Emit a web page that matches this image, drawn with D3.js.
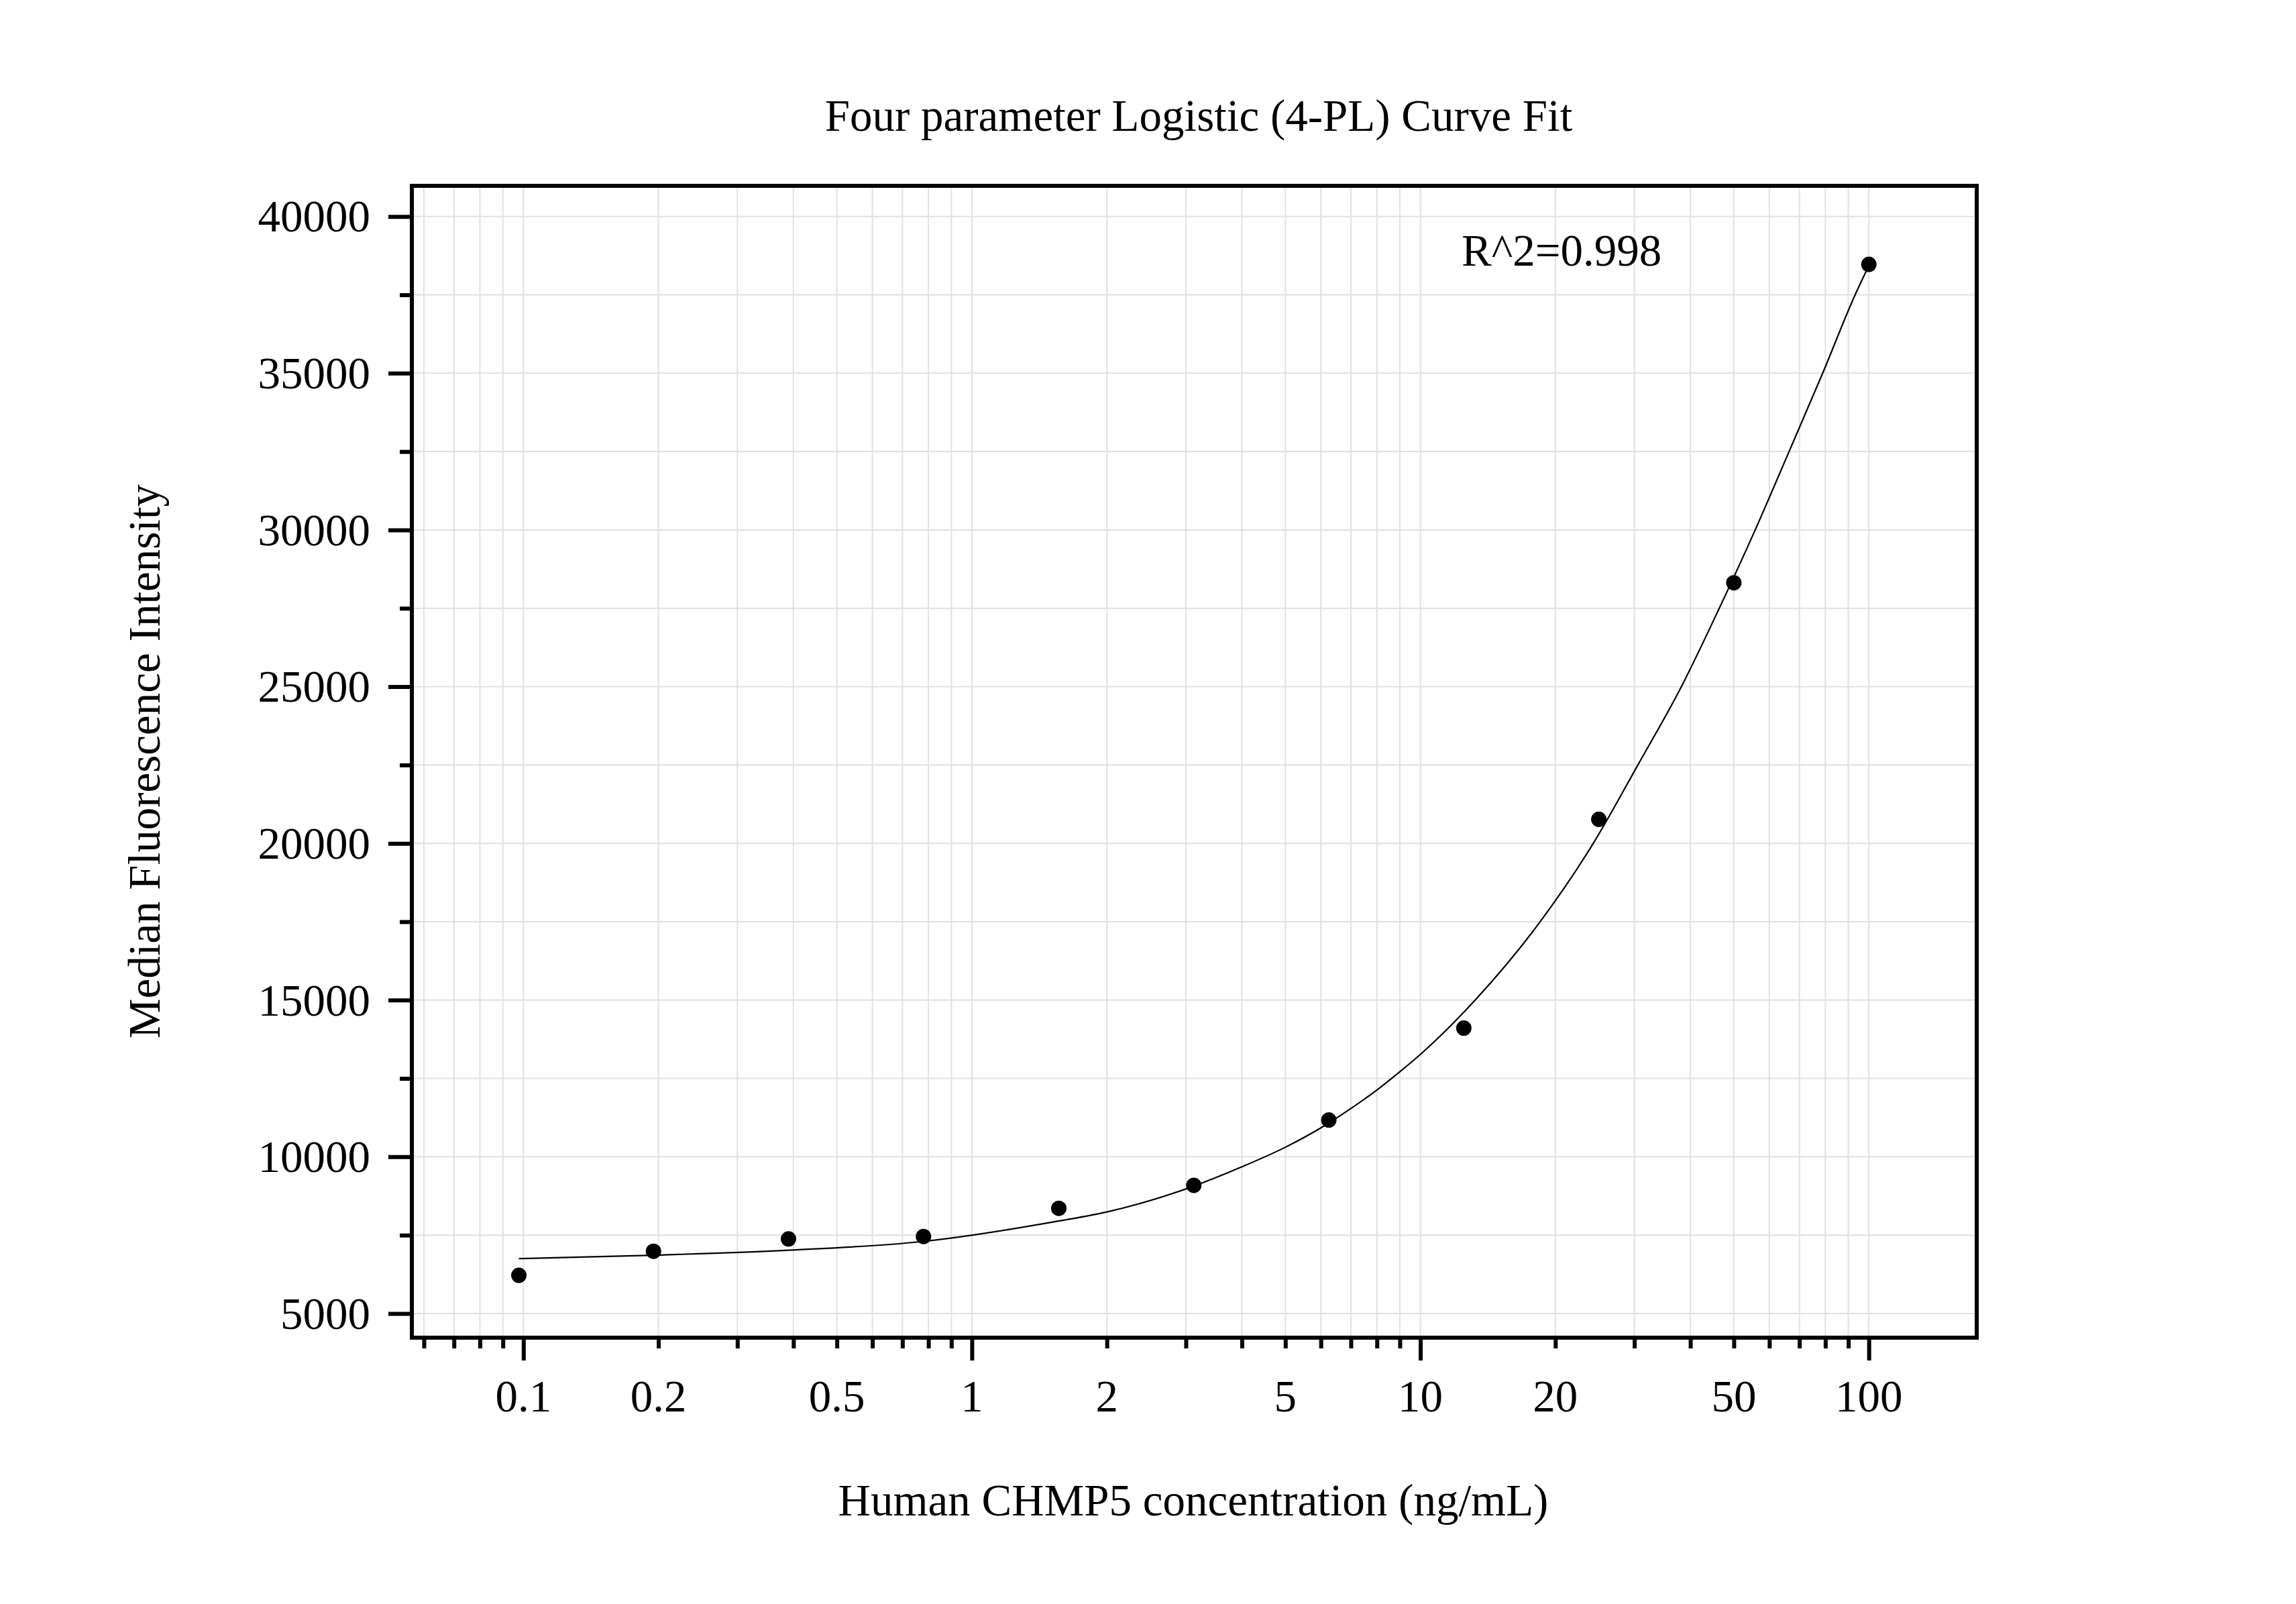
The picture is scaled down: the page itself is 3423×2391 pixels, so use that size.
<!DOCTYPE html>
<html>
<head>
<meta charset="utf-8">
<script src="https://cdn.jsdelivr.net/npm/d3@7/dist/d3.min.js"></script>
<style>
  html, body { margin: 0; padding: 0; background: #fff; }
  svg { display: block; }
  text { font-family: "Liberation Serif", "Times New Roman", Times, serif; fill: #000; }
</style>
</head>
<body>
<svg id="chart" width="3423" height="2391"></svg>
<script>
// ---- data ----
const concentrations = [0.0977, 0.195, 0.39, 0.78, 1.5625, 3.125, 6.25, 12.5, 25, 50, 100];
const mfiValues      = [6218, 6987, 7378, 7457, 8355, 9088, 11173, 14105, 20767, 28314, 38473];

// fitted 4-PL curve
const curveX = [0.0977, 0.195, 0.39, 0.78, 1.56, 2.0, 3.125, 4, 5, 6, 7, 8, 9, 10, 13.25, 18.5, 24.3, 30.55, 38.2, 46.4, 55.8, 66.4, 78.9, 93.2, 100];
const curveY = [6752, 6860, 7020, 7300, 7950, 8240, 9065, 9680, 10305, 10923, 11541, 12131, 12713, 13267, 15000, 17500, 20000, 22500, 25000, 27500, 30000, 32500, 35000, 37500, 38430];

const xLabelTicks = [0.1, 0.2, 0.5, 1, 2, 5, 10, 20, 50, 100];
const xDecadeTicks = [0.1, 1, 10, 100];
const xMinorTicks = [0.06, 0.07, 0.08, 0.09, 0.2, 0.3, 0.4, 0.5, 0.6, 0.7, 0.8, 0.9,
                     2, 3, 4, 5, 6, 7, 8, 9, 20, 30, 40, 50, 60, 70, 80, 90];
const yMajorTicks = [5000, 10000, 15000, 20000, 25000, 30000, 35000, 40000];
const yMinorTicks = [7500, 12500, 17500, 22500, 27500, 32500, 37500];

const titleText = "Four parameter Logistic (4-PL) Curve Fit";
const xTitle = "Human CHMP5 concentration (ng/mL)";
const yTitle = "Median Fluorescence Intensity";
const r2Text = "R^2=0.998";

// ---- layout ----
const L = 614, R = 2947, T = 277, B = 1994;
const FS = 67;

const svg = d3.select("#chart");

const x = d3.scaleLog().domain([0.0564, 174]).range([L, R]);
const y = d3.scaleLinear().domain([4229, 40978]).range([B, T]);

// gridlines
const grid = svg.append("g").attr("stroke", "#e1e1e1").attr("stroke-width", 2);
const xGridVals = [...xDecadeTicks, ...xMinorTicks];
grid.selectAll("line.vx").data(xGridVals).enter().append("line")
  .attr("x1", d => x(d)).attr("x2", d => x(d)).attr("y1", T).attr("y2", B);
grid.selectAll("line.hy").data([...yMajorTicks, ...yMinorTicks]).enter().append("line")
  .attr("x1", L).attr("x2", R).attr("y1", d => y(d)).attr("y2", d => y(d));

// curve
const line = d3.line()
  .x((d, i) => x(curveX[i]))
  .y(d => y(d))
  .curve(d3.curveMonotoneX);
svg.append("path")
  .datum(curveY)
  .attr("d", line)
  .attr("fill", "none")
  .attr("stroke", "#000")
  .attr("stroke-width", 2.2);

// points
svg.append("g").selectAll("circle").data(mfiValues).enter().append("circle")
  .attr("cx", (d, i) => x(concentrations[i]))
  .attr("cy", d => y(d))
  .attr("r", 11.5)
  .attr("fill", "#000");

// axes via d3 axes
function styleAxis(g) {
  g.select(".domain").remove();
  g.selectAll(".tick line").attr("stroke", "#000").attr("stroke-width", 6);
  g.selectAll(".tick text").remove();
}
svg.append("g").attr("transform", `translate(0,${B})`)
  .call(d3.axisBottom(x).tickValues(xDecadeTicks).tickSize(34).tickFormat(""))
  .call(styleAxis);
svg.append("g").attr("transform", `translate(0,${B})`)
  .call(d3.axisBottom(x).tickValues(xMinorTicks).tickSize(16).tickFormat(""))
  .call(styleAxis);
svg.append("g").attr("transform", `translate(${L},0)`)
  .call(d3.axisLeft(y).tickValues(yMajorTicks).tickSize(35).tickFormat(""))
  .call(styleAxis);
svg.append("g").attr("transform", `translate(${L},0)`)
  .call(d3.axisLeft(y).tickValues(yMinorTicks).tickSize(18).tickFormat(""))
  .call(styleAxis);

// frame
svg.append("rect")
  .attr("x", L).attr("y", T).attr("width", R - L).attr("height", B - T)
  .attr("fill", "none").attr("stroke", "#000").attr("stroke-width", 6);

// tick labels
svg.append("g").selectAll("text").data(xLabelTicks).enter().append("text")
  .attr("x", d => x(d)).attr("y", 2104)
  .attr("text-anchor", "middle")
  .attr("font-size", FS)
  .text(d => String(d));

svg.append("g").selectAll("text").data(yMajorTicks).enter().append("text")
  .attr("x", 552).attr("y", d => y(d))
  .attr("dy", "0.34em")
  .attr("text-anchor", "end")
  .attr("font-size", FS)
  .text(d => String(d));

// titles
svg.append("text").attr("x", 1787).attr("y", 195)
  .attr("text-anchor", "middle").attr("font-size", FS).text(titleText);
svg.append("text").attr("x", 1779).attr("y", 2259)
  .attr("text-anchor", "middle").attr("font-size", FS).text(xTitle);
svg.append("text")
  .attr("transform", "translate(238,1135) rotate(-90)")
  .attr("text-anchor", "middle").attr("font-size", FS).text(yTitle);
svg.append("text").attr("x", 2179).attr("y", 396)
  .attr("font-size", FS).text(r2Text);
</script>
</body>
</html>
